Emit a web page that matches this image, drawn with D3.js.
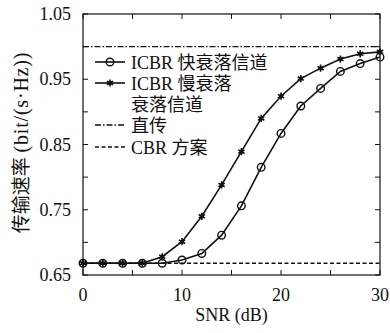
<!DOCTYPE html>
<html>
<head>
<meta charset="utf-8">
<script src="https://cdn.jsdelivr.net/npm/d3@7"></script>
<style>
  body { margin: 0; background: #fff; }
  text { font-family: "Liberation Serif", "DejaVu Serif", "Noto Sans CJK SC", serif; fill: #111; }
</style>
</head>
<body>
<div id="chart"></div>
<script>
// data
const snr = [0, 2, 4, 6, 8, 10, 12, 14, 16, 18, 20, 22, 24, 26, 28, 30];
const icbrFast = [0.668, 0.668, 0.668, 0.668, 0.668, 0.673, 0.683, 0.711, 0.756, 0.815, 0.867, 0.909, 0.936, 0.962, 0.974, 0.984];
const icbrSlow = [0.668, 0.668, 0.668, 0.668, 0.678, 0.701, 0.740, 0.788, 0.839, 0.890, 0.924, 0.951, 0.967, 0.981, 0.989, 0.992];
const directRate = 1.0;
const cbrRate = 0.668;
const xTicks = [0, 10, 20, 30];
const yTicks = [0.65, 0.75, 0.85, 0.95, 1.05];
const legendLabels = [["ICBR 快衰落信道"], ["ICBR 慢衰落", "衰落信道"], ["直传"], ["CBR 方案"]];

const W = 390, H = 333;
const margin = { top: 14, right: 10, bottom: 58, left: 83 };
const width = W - margin.left - margin.right;
const height = H - margin.top - margin.bottom;

const svg = d3.select('#chart').append('svg')
  .attr('width', W).attr('height', H)
  .append('g')
  .attr('transform', `translate(${margin.left},${margin.top})`);

const x = d3.scaleLinear().domain([0, 30]).range([0, width]);
const y = d3.scaleLinear().domain([0.65, 1.05]).range([height, 0]);

// frame
svg.append('rect').attr('width', width).attr('height', height)
  .attr('fill', 'none').attr('stroke', '#111').attr('stroke-width', 1.2);

// inward ticks on all four sides
const xt = d3.range(0, 31, 5);
const yt = d3.range(0.65, 1.051, 0.05);
const tl = 5;
xt.forEach(v => {
  svg.append('line').attr('x1', x(v)).attr('x2', x(v)).attr('y1', height).attr('y2', height - tl).attr('stroke', '#111');
  svg.append('line').attr('x1', x(v)).attr('x2', x(v)).attr('y1', 0).attr('y2', tl).attr('stroke', '#111');
});
yt.forEach(v => {
  svg.append('line').attr('x1', 0).attr('x2', tl).attr('y1', y(v)).attr('y2', y(v)).attr('stroke', '#111');
  svg.append('line').attr('x1', width).attr('x2', width - tl).attr('y1', y(v)).attr('y2', y(v)).attr('stroke', '#111');
});

// tick labels
svg.append('g').selectAll('text').data(xTicks).enter().append('text')
  .attr('x', d => x(d)).attr('y', height + 26)
  .attr('text-anchor', 'middle').attr('font-size', 18)
  .text(d => d);
svg.append('g').selectAll('text').data(yTicks).enter().append('text')
  .attr('x', -12).attr('y', d => y(d) + 6)
  .attr('text-anchor', 'end').attr('font-size', 18)
  .text(d => d.toFixed(2));

// axis titles
svg.append('text').attr('x', width / 2).attr('y', height + 46)
  .attr('text-anchor', 'middle').attr('font-size', 18).text('SNR (dB)');
const yTitle = svg.append('text')
  .attr('transform', `translate(${-55},${height / 2 - 2}) rotate(-90)`)
  .attr('text-anchor', 'middle');
yTitle.append('tspan').attr('font-size', 19).text('传输速率 ');
yTitle.append('tspan').attr('font-size', 20).attr('letter-spacing', 0.8).text('(bit/(s·Hz))');

// reference lines
svg.append('line').attr('x1', x(0)).attr('x2', x(30))
  .attr('y1', y(directRate)).attr('y2', y(directRate))
  .attr('stroke', '#111').attr('stroke-width', 1.3).attr('stroke-dasharray', '6,2,1.5,2');
svg.append('line').attr('x1', x(0)).attr('x2', x(30))
  .attr('y1', y(cbrRate)).attr('y2', y(cbrRate))
  .attr('stroke', '#111').attr('stroke-width', 1.3).attr('stroke-dasharray', '4,2.5');

const line = d3.line().x((d, i) => x(snr[i])).y(d => y(d));

svg.append('path').datum(icbrFast).attr('d', line)
  .attr('fill', 'none').attr('stroke', '#111').attr('stroke-width', 1.6);
svg.append('path').datum(icbrSlow).attr('d', line)
  .attr('fill', 'none').attr('stroke', '#111').attr('stroke-width', 1.6);

const star = d3.symbol().type(d3.symbolAsterisk).size(36);

function circleMark(g, cx, cy) {
  g.append('circle').attr('cx', cx).attr('cy', cy).attr('r', 3.8)
    .attr('fill', 'none').attr('stroke', '#111').attr('stroke-width', 1.4);
}
function starMark(g, cx, cy) {
  g.append('path').attr('d', star).attr('transform', `translate(${cx},${cy})`)
    .attr('fill', 'none').attr('stroke', '#111').attr('stroke-width', 1.6);
  g.append('circle').attr('cx', cx).attr('cy', cy).attr('r', 2).attr('fill', '#111');
}

const marks = svg.append('g');
icbrFast.forEach((v, i) => circleMark(marks, x(snr[i]), y(v)));
icbrSlow.forEach((v, i) => starMark(marks, x(snr[i]), y(v)));

// legend
const lg = svg.append('g').attr('transform', 'translate(12,0)');
const rows = [48, 69, 111, 133];
const dashes = [null, null, '6,2,1.5,2', '4,2.5'];
legendLabels.forEach((lab, i) => {
  const ly = rows[i];
  lg.append('line').attr('x1', 0).attr('x2', 30).attr('y1', ly).attr('y2', ly)
    .attr('stroke', '#111').attr('stroke-width', i < 2 ? 1.6 : 1.3)
    .attr('stroke-dasharray', dashes[i]);
  if (i === 0) circleMark(lg, 15, ly);
  if (i === 1) starMark(lg, 15, ly);
  lab.forEach((t, k) => {
    lg.append('text').attr('x', 36).attr('y', ly + 6.5 + k * 21)
      .attr('font-size', 18).text(t);
  });
});
</script>
</body>
</html>
